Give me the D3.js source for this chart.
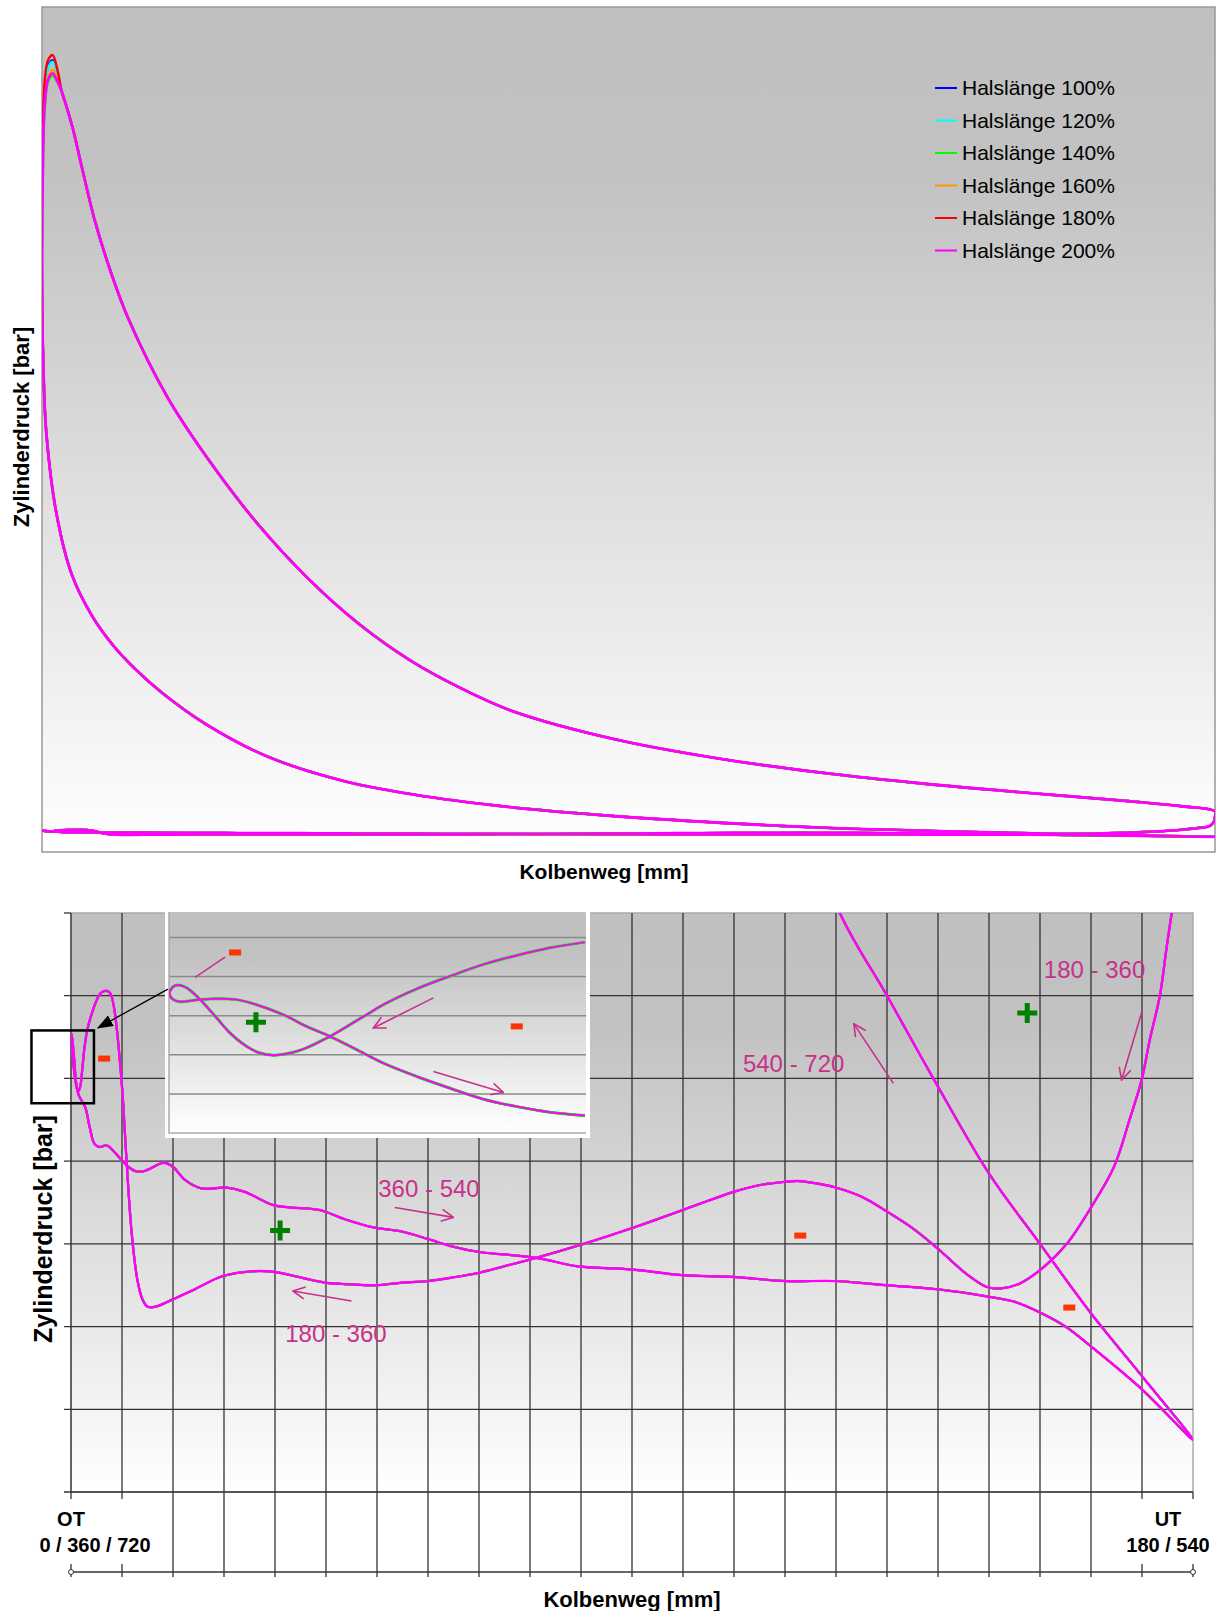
<!DOCTYPE html>
<html>
<head>
<meta charset="utf-8">
<title>Zylinderdruck über Kolbenweg</title>
<script src="https://cdn.jsdelivr.net/npm/d3@7"></script>
<style>
  body { margin: 0; background: #fff; }
  svg text { font-family: 'Liberation Sans', Arial, sans-serif; }
  .axis-title { font-weight: bold; fill: #000; }
  .legend text { font-size: 21px; fill: #000; }
  .note { font-size: 24px; fill: #c8308c; }
  .pos-label { font-size: 20px; font-weight: bold; fill: #000; }
</style>
</head>
<body>
<svg width="1220" height="1611"></svg>
<script>
// ---------------- data: [Kolbenweg mm, Zylinderdruck bar] ----------------
const seriesNames = ['Halslänge 100%', 'Halslänge 120%', 'Halslänge 140%',
                     'Halslänge 160%', 'Halslänge 180%', 'Halslänge 200%'];
const seriesColors = ['#0000ff', '#00ffff', '#00ff00', '#ff9900', '#ff0000', '#ff00ff'];

// combustion around OT, one per variant (only part where they differ)
const peak100 = [[0, 43.5], [0.05, 53.0], [0.2, 58.5], [0.45, 60.4], [0.8, 60.9], [1.15, 59.9]];
const peak120 = [[0, 43.5], [0.05, 53.0], [0.2, 58.4], [0.45, 60.3], [0.8, 60.8], [1.15, 59.8]];
const peak140 = [[0, 42.0], [0.05, 51.0], [0.2, 57.0], [0.45, 59.2], [0.8, 59.7], [1.15, 59.2]];
const peak160 = [[0, 42.6], [0.05, 52.0], [0.2, 57.6], [0.45, 59.6], [0.8, 60.15], [1.15, 59.5]];
const peak180 = [[0, 44.5], [0.05, 54.0], [0.2, 59.3], [0.45, 60.9], [0.8, 61.3], [1.15, 60.2]];
const peak200 = [[0, 42.6], [0.05, 52.0], [0.2, 57.5], [0.45, 59.4], [0.8, 59.9], [1.15, 59.3]];

// 0 - 180 expansion
const expansion = [[1.48, 58.5], [1.85, 57.3], [2.35, 55.5], [2.85, 53.3], [3.35, 51.1],
  [3.98, 48.5], [5.2, 44.5], [6.49, 41.0], [9.4, 35.0], [12.27, 30.5], [16.13, 25.3],
  [20.0, 21.0], [23.83, 17.5], [27.69, 14.7], [31.55, 12.54], [35.4, 10.8], [43.1, 8.64],
  [50.8, 7.18], [58.5, 6.1], [66.2, 5.25], [73.95, 4.55], [81.67, 3.9], [85.5, 3.52],
  [88.0, 3.12]];
const blowdown = [[88.0, 2.7], [87.9, 2.3], [87.6, 2.0], [87.2, 1.9]];

// 180 - 360 exhaust (back to OT)
const exhaust = [[86.3, 1.80], [85.9, 1.755], [85.4, 1.70], [84.6, 1.646], [84.0, 1.60],
  [83.0, 1.549], [81.8, 1.493], [80.0, 1.444], [78.1, 1.40], [76.3, 1.372], [74.4, 1.352],
  [72.9, 1.346], [71.8, 1.348], [70.2, 1.364], [68.0, 1.394], [66.0, 1.419], [64.0, 1.439],
  [62.0, 1.457], [60.0, 1.468], [58.5, 1.473], [57.0, 1.476], [56.0, 1.475], [54.0, 1.471],
  [52.0, 1.463], [48.0, 1.441], [44.0, 1.419], [40.0, 1.399], [36.0, 1.381], [34.0, 1.373],
  [32.0, 1.365], [29.8, 1.359], [28.0, 1.355], [25.9, 1.353], [24.0, 1.350], [22.0, 1.351],
  [20.0, 1.353], [18.1, 1.359], [16.0, 1.366], [14.4, 1.367], [11.9, 1.361], [9.7, 1.345],
  [8.0, 1.333], [6.6, 1.324], [6.0, 1.324], [5.6, 1.333], [5.2, 1.357], [4.76, 1.413],
  [4.36, 1.50], [4.08, 1.573], [3.84, 1.62], [3.6, 1.659], [3.36, 1.687], [3.08, 1.703],
  [2.76, 1.706], [2.32, 1.703], [1.92, 1.691], [1.56, 1.675], [1.28, 1.659], [1.04, 1.635],
  [0.88, 1.61], [0.72, 1.59], [0.56, 1.584], [0.40, 1.595], [0.24, 1.625], [0.08, 1.65],
  [0.0, 1.655]];

// 360 - 540 intake
const intake = [[0.0, 1.655], [0.12, 1.63], [0.32, 1.60], [0.6, 1.58], [1.12, 1.565],
  [1.48, 1.54], [1.84, 1.521], [2.24, 1.517], [2.8, 1.519], [3.52, 1.509], [4.36, 1.495],
  [5.04, 1.488], [5.76, 1.488], [7.28, 1.498], [8.0, 1.493], [8.96, 1.477], [10.24, 1.467],
  [12.2, 1.468], [13.6, 1.463], [15.84, 1.447], [17.24, 1.444], [19.48, 1.441], [21.44, 1.43],
  [23.68, 1.42], [25.92, 1.415], [28.16, 1.405], [29.84, 1.397], [32.08, 1.39], [34.88, 1.386],
  [36.88, 1.382], [39.68, 1.373], [44.0, 1.369], [48.0, 1.362], [52.0, 1.36], [56.0, 1.355],
  [60.0, 1.355], [64.0, 1.35], [68.0, 1.345], [72.0, 1.336], [74.0, 1.33], [76.0, 1.317],
  [78.0, 1.30], [80.0, 1.276], [84.0, 1.224], [88.0, 1.163]];

// 540 - 720 compression
const compression = [[88.0, 1.163], [84.0, 1.24], [80.0, 1.316], [76.0, 1.40], [72.0, 1.485],
  [68.0, 1.59], [64.0, 1.70], [60.3, 1.80], [56.0, 1.98], [50.8, 2.25], [43.1, 2.75],
  [35.4, 3.42], [27.7, 4.45], [22.3, 5.55], [16.9, 7.35], [12.27, 9.85], [9.0, 12.25],
  [6.87, 14.2], [5.33, 15.9], [3.79, 18.1], [2.25, 21.3], [1.09, 26.0], [0.32, 32.3],
  [0.1, 37.5]];

// detail around OT (inset)
const insetIn = [[1.995, 1.2576], [1.827, 1.2547], [1.667, 1.2508], [1.508, 1.2462],
  [1.348, 1.2402], [1.188, 1.2337], [1.028, 1.2256], [0.948, 1.2205], [0.868, 1.2154],
  [0.772, 1.2094], [0.644, 1.2029], [0.564, 1.2005], [0.500, 1.1998], [0.436, 1.2009],
  [0.372, 1.2043], [0.293, 1.2111], [0.229, 1.2188], [0.165, 1.2265], [0.125, 1.2308],
  [0.085, 1.2342], [0.053, 1.2356], [0.029, 1.2354], [0.008, 1.2333], [0.002, 1.2313]];
const insetOut = [[0.002, 1.2313], [0.008, 1.2296], [0.021, 1.2282], [0.045, 1.2272],
  [0.085, 1.2274], [0.149, 1.2282], [0.229, 1.2287], [0.325, 1.2282], [0.420, 1.2256],
  [0.548, 1.2205], [0.660, 1.2145], [0.772, 1.2094], [0.900, 1.2026], [1.028, 1.1957],
  [1.188, 1.1889], [1.348, 1.1829], [1.508, 1.1773], [1.667, 1.1735], [1.827, 1.1706],
  [1.995, 1.1689]];

// annotations (data coordinates)
const phaseLabels = ['360 - 540', '180 - 360', '540 - 720', '180 - 360'];
const phaseLabelAt = [[24.1, 1.467], [16.8, 1.292], [52.7, 1.618], [76.3, 1.731]];
const phaseArrows = [[[25.4, 1.444], [30.0, 1.432]], [[22.0, 1.331], [17.4, 1.343]],
                     [[64.5, 1.594], [61.4, 1.666]], [[84.0, 1.681], [82.4, 1.598]]];
const plusAt = [[16.4, 1.416], [75.0, 1.679]];
const minusAt = [[2.6, 1.624], [57.2, 1.41], [78.3, 1.323]];
const zoomBox = [[-3.1, 1.658], [1.8, 1.570]];
const zoomPointer = [[7.6, 1.708], [2.1, 1.661]];
const insetPlusAt = [[0.417, 1.2166]];
const insetMinusAt = [[0.317, 1.2523], [1.668, 1.2145]];
const insetLeader = [[0.125, 1.2396], [0.269, 1.2499]];
const insetArrows = [[[1.268, 1.2291], [0.980, 1.2137]], [[1.268, 1.1914], [1.604, 1.1807]]];

const strokeGrid = d3.range(0, 92, 4);                        // every 4 mm
const pressureGrid = [1.1, 1.2, 1.3, 1.4, 1.5, 1.6, 1.7, 1.8];
const insetGrid = [1.18, 1.20, 1.22, 1.24, 1.26];

// ---------------- setup ----------------
const svg = d3.select('svg');
const defs = svg.append('defs');
const noteColor = '#c8308c';

// gray to white background used by all plot areas
function grayFade(id) {
  const g = defs.append('linearGradient').attr('id', id)
    .attr('x1', 0).attr('y1', 0).attr('x2', 0).attr('y2', 1);
  g.append('stop').attr('offset', '0%').attr('stop-color', '#c0c0c0');
  g.append('stop').attr('offset', '20%').attr('stop-color', '#c2c2c2');
  g.append('stop').attr('offset', '100%').attr('stop-color', '#ffffff');
}
grayFade('fade');

defs.append('marker').attr('id', 'open-arrow')
    .attr('viewBox', '0 0 14 14').attr('refX', 13).attr('refY', 7)
    .attr('markerWidth', 14).attr('markerHeight', 14)
    .attr('markerUnits', 'userSpaceOnUse').attr('orient', 'auto')
  .append('path')
    .attr('d', 'M1,1 L13,7 L1,13')
    .attr('fill', 'none').attr('stroke', noteColor).attr('stroke-width', 1.6);

defs.append('marker').attr('id', 'solid-arrow')
    .attr('viewBox', '0 0 16 12').attr('refX', 15).attr('refY', 6)
    .attr('markerWidth', 16).attr('markerHeight', 12)
    .attr('markerUnits', 'userSpaceOnUse').attr('orient', 'auto')
  .append('path')
    .attr('d', 'M0,0 L16,6 L0,12 Z').attr('fill', '#000');

function clipRect(id, x, y, w, h) {
  defs.append('clipPath').attr('id', id)
    .append('rect').attr('x', x).attr('y', y).attr('width', w).attr('height', h);
}

const peaks = [peak100, peak120, peak140, peak160, peak180, peak200];
// full cycle for one variant: intake, compression, combustion, expansion, exhaust
const cycle = peak => intake.concat(compression.slice(1), peak, expansion, blowdown, exhaust.slice(1));
// magenta (200%) is drawn last, the others only show where they differ
const drawOrder = [0, 1, 3, 4, 2, 5];
const widthOf = i => i === 5 ? 2.4 : 2.0;

// ---------------- top chart ----------------
const xTop = d3.scaleLinear().domain([0, 88]).range([42, 1215]);
const yTop = d3.scaleLinear().domain([0, 65]).range([852, 7]);
const lineTop = d3.line().x(d => xTop(d[0])).y(d => yTop(d[1])).curve(d3.curveCatmullRom.alpha(0.5));

svg.append('rect')
  .attr('x', 42).attr('y', 7).attr('width', 1173).attr('height', 845)
  .attr('fill', 'url(#fade)').attr('stroke', '#999').attr('stroke-width', 1.5);
clipRect('clip-top', 42, 7, 1173, 845);

const topLines = svg.append('g').attr('clip-path', 'url(#clip-top)');
drawOrder.forEach(i => {
  topLines.append('path')
    .attr('d', lineTop(cycle(peaks[i])))
    .attr('fill', 'none')
    .attr('stroke', seriesColors[i])
    .attr('stroke-width', widthOf(i) + 0.4)
    .attr('stroke-linejoin', 'round');
});

const legend = svg.append('g').attr('class', 'legend');
seriesNames.forEach((name, i) => {
  const ly = 88 + i * 32.5;
  legend.append('line')
    .attr('x1', 935).attr('x2', 957).attr('y1', ly).attr('y2', ly)
    .attr('stroke', seriesColors[i]).attr('stroke-width', 2);
  legend.append('text')
    .attr('x', 962).attr('y', ly).attr('dy', '0.35em').text(name);
});

svg.append('text').attr('class', 'axis-title').style('font-size', '21px')
  .attr('x', 604).attr('y', 879).attr('text-anchor', 'middle').text('Kolbenweg [mm]');
svg.append('text').attr('class', 'axis-title').style('font-size', '22px')
  .attr('transform', 'translate(29,427) rotate(-90)')
  .attr('text-anchor', 'middle').text('Zylinderdruck [bar]');

// ---------------- bottom chart (detail of gas exchange) ----------------
const xBot = d3.scaleLinear().domain([0, 88]).range([71, 1193]);
const yBot = d3.scaleLinear().domain([1.1, 1.8]).range([1492, 913]);
const lineBot = d3.line().x(d => xBot(d[0])).y(d => yBot(d[1])).curve(d3.curveCatmullRom.alpha(0.5));
const axisY = 1572;

svg.append('rect')
  .attr('x', 71).attr('y', 913).attr('width', 1122).attr('height', 579)
  .attr('fill', 'url(#fade)').attr('stroke', '#aaa').attr('stroke-width', 1.5);

const grid = svg.append('g').attr('stroke', '#333').attr('stroke-width', 1.3);
grid.selectAll('.h').data(pressureGrid).enter().append('line')
  .attr('x1', 64).attr('x2', d => d === 1.8 ? 71 : 1193)
  .attr('y1', d => yBot(d)).attr('y2', d => yBot(d));
grid.selectAll('.v').data(strokeGrid).enter().append('line')
  .attr('x1', d => xBot(d)).attr('x2', d => xBot(d))
  .attr('y1', d => d === 88 ? 1492 : 913).attr('y2', axisY + 5);
grid.append('line')
  .attr('x1', xBot(0)).attr('x2', xBot(88)).attr('y1', axisY).attr('y2', axisY);
grid.selectAll('.end').data([0, 88]).enter().append('circle')
  .attr('cx', d => xBot(d)).attr('cy', axisY).attr('r', 2.5)
  .attr('fill', '#fff').attr('stroke-width', 1);

clipRect('clip-bot', 71, 913, 1122, 579);
const botLines = svg.append('g').attr('clip-path', 'url(#clip-bot)');
drawOrder.forEach(i => {
  botLines.append('path')
    .attr('d', lineBot(cycle(peaks[i])))
    .attr('fill', 'none')
    .attr('stroke', seriesColors[i])
    .attr('stroke-width', widthOf(i))
    .attr('stroke-linejoin', 'round');
});

// position labels OT / UT with white backing
function posLabel(cx, top, bottom, shift) {
  const g = svg.append('g');
  const bg = g.append('rect').attr('fill', '#fff');
  g.append('text').attr('class', 'pos-label').attr('x', cx).attr('y', 1526)
    .attr('text-anchor', 'middle').text(top);
  g.append('text').attr('class', 'pos-label').attr('x', cx + shift).attr('y', 1552)
    .attr('text-anchor', 'middle').text(bottom);
  const b = g.node().getBBox();
  bg.attr('x', b.x - 4).attr('y', 1499).attr('width', b.width + 8).attr('height', 65);
}
posLabel(xBot(0), 'OT', '0 / 360 / 720', 24);
posLabel(1168, 'UT', '180 / 540', 0);

svg.append('text').attr('class', 'axis-title').style('font-size', '22px')
  .attr('x', 632).attr('y', 1607).attr('text-anchor', 'middle').text('Kolbenweg [mm]');
svg.append('text').attr('class', 'axis-title').style('font-size', '25px')
  .attr('transform', 'translate(52,1229) rotate(-90)')
  .attr('text-anchor', 'middle').text('Zylinderdruck [bar]');

// annotations
const notes = svg.append('g');
phaseLabels.forEach((t, i) => {
  notes.append('text').attr('class', 'note')
    .attr('x', xBot(phaseLabelAt[i][0])).attr('y', yBot(phaseLabelAt[i][1]))
    .attr('dy', '0.35em').text(t);
  const a = phaseArrows[i];
  notes.append('line')
    .attr('x1', xBot(a[0][0])).attr('y1', yBot(a[0][1]))
    .attr('x2', xBot(a[1][0])).attr('y2', yBot(a[1][1]))
    .attr('stroke', noteColor).attr('stroke-width', 1.6)
    .attr('marker-end', 'url(#open-arrow)');
});

function plus(g, x, y) {
  g.append('path')
    .attr('d', `M${x - 10},${y} H${x + 10} M${x},${y - 10} V${y + 10}`)
    .attr('stroke', '#008000').attr('stroke-width', 5);
}
function minus(g, x, y) {
  g.append('rect').attr('x', x - 6).attr('y', y - 3).attr('width', 12).attr('height', 6)
    .attr('fill', '#ff3300');
}
plusAt.forEach(d => plus(notes, xBot(d[0]), yBot(d[1])));
minusAt.forEach(d => minus(notes, xBot(d[0]), yBot(d[1])));

// zoom box near OT
notes.append('rect')
  .attr('x', xBot(zoomBox[0][0])).attr('y', yBot(zoomBox[0][1]))
  .attr('width', xBot(zoomBox[1][0]) - xBot(zoomBox[0][0]))
  .attr('height', yBot(zoomBox[1][1]) - yBot(zoomBox[0][1]))
  .attr('fill', 'none').attr('stroke', '#000').attr('stroke-width', 2.5);

// ---------------- inset ----------------
const xIns = d3.scaleLinear().domain([0, 2]).range([169, 586]);
const yIns = d3.scaleLinear().domain([1.16, 1.273]).range([1133, 912]);
const lineIns = d3.line().x(d => xIns(d[0])).y(d => yIns(d[1])).curve(d3.curveCatmullRom.alpha(0.5));

const inset = svg.append('g');
inset.append('rect').attr('x', 165).attr('y', 909).attr('width', 425).attr('height', 229).attr('fill', '#fff');
inset.append('rect').attr('x', 169).attr('y', 912).attr('width', 417).attr('height', 221).attr('fill', 'url(#fade)');
inset.selectAll('.ig').data(insetGrid).enter().append('line')
  .attr('x1', 169).attr('x2', 586).attr('y1', d => yIns(d)).attr('y2', d => yIns(d))
  .attr('stroke', '#8a8a8a').attr('stroke-width', 1.5);
inset.append('path').attr('d', 'M169,912 V1133 H586')
  .attr('fill', 'none').attr('stroke', '#aaa').attr('stroke-width', 1.5);

clipRect('clip-ins', 169, 912, 417, 221);
const insLines = inset.append('g').attr('clip-path', 'url(#clip-ins)');
drawOrder.forEach(i => {
  insLines.append('path')
    .attr('d', lineIns(insetIn.concat(insetOut.slice(1))))
    .attr('fill', 'none')
    .attr('stroke', seriesColors[i])
    .attr('stroke-width', i === 5 ? 2 : (i === 2 ? 3 : 2));
});
insetPlusAt.forEach(d => plus(inset, xIns(d[0]), yIns(d[1])));
insetMinusAt.forEach(d => minus(inset, xIns(d[0]), yIns(d[1])));
inset.append('line')
  .attr('x1', xIns(insetLeader[0][0])).attr('y1', yIns(insetLeader[0][1]))
  .attr('x2', xIns(insetLeader[1][0])).attr('y2', yIns(insetLeader[1][1]))
  .attr('stroke', noteColor).attr('stroke-width', 1.6);
insetArrows.forEach(a => {
  inset.append('line')
    .attr('x1', xIns(a[0][0])).attr('y1', yIns(a[0][1]))
    .attr('x2', xIns(a[1][0])).attr('y2', yIns(a[1][1]))
    .attr('stroke', noteColor).attr('stroke-width', 1.6)
    .attr('marker-end', 'url(#open-arrow)');
});

// pointer from inset to zoom box
svg.append('line')
  .attr('x1', xBot(zoomPointer[0][0])).attr('y1', yBot(zoomPointer[0][1]))
  .attr('x2', xBot(zoomPointer[1][0])).attr('y2', yBot(zoomPointer[1][1]))
  .attr('stroke', '#000').attr('stroke-width', 1.3)
  .attr('marker-end', 'url(#solid-arrow)');
</script>
</body>
</html>
